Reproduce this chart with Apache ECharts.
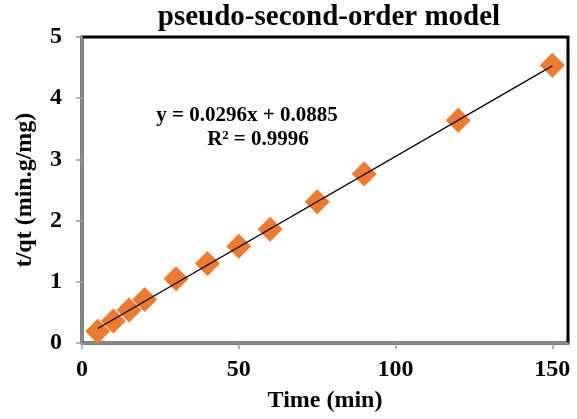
<!DOCTYPE html>
<html>
<head>
    <meta charset="utf-8">
    <title>pseudo-second-order model</title>
	<script src="https://cdn.jsdelivr.net/npm/echarts@6/dist/echarts.min.js"></script>
	<style>
		html,body{
			margin: 0;
			padding: 0;
			background: #fff;
		}
		#main{
			width: 577px;
			height: 419px;
		}
	</style>
</head>
<body>
	<div id="main"></div>
	<script type="text/javascript">
		// 数据
		var time = [5, 10, 15, 20, 30, 40, 50, 60, 75, 90, 120, 150];
		var tqt = [0.19, 0.36, 0.54, 0.71, 1.05, 1.30, 1.58, 1.86, 2.31, 2.76, 3.64, 4.54];
		// trendline end points
		var trendX = [5, 150];
		var trendY = [0.236, 4.529];
		var xTicks = [0, 50, 100, 150];
		var yTicks = [0, 1, 2, 3, 4, 5];

		var points = time.map(function(t, i){ return [t, tqt[i]]; });
		var trend = trendX.map(function(t, i){ return [t, trendY[i]]; });

		var font = '"Liberation Serif", "Times New Roman", serif';

		var myChart = echarts.init(document.getElementById('main'));
		var option = {
			animation: false,
			title: {
				text: 'pseudo-second-order model',
				left: 324,
				top: -2,
				textAlign: 'center',
				textStyle: {
					fontFamily: font,
					fontWeight: 'bold',
					fontSize: 29,
					color: '#000'
				}
			},
			grid: {
				left: 82,
				right: 9,
				top: 37,
				bottom: 76,
				show: true,
				borderColor: '#000',
				borderWidth: 3,
				backgroundColor: '#fff'
			},
			xAxis: {
				type: 'value',
				min: 0,
				max: 155,
				interval: 50,
				name: 'Time (min)',
				nameLocation: 'middle',
				nameGap: 46,
				nameTextStyle: {
					fontFamily: font,
					fontWeight: 'bold',
					fontSize: 24,
					color: '#000'
				},
				splitLine: { show: false },
				axisLine: { show: true, onZero: false, lineStyle: { color: '#888', width: 2 } },
				axisTick: { show: true, length: 6, inside: false, lineStyle: { color: '#999', width: 1.5 } },
				axisLabel: {
					margin: 15,
					fontFamily: font,
					fontWeight: 'bold',
					fontSize: 24,
					color: '#000',
					showMaxLabel: false,
					formatter: function(v){ return xTicks.indexOf(v) >= 0 ? String(v) : ''; }
				}
			},
			yAxis: {
				type: 'value',
				min: 0,
				max: 5,
				interval: 1,
				name: 't/qt (min.g/mg)',
				nameLocation: 'middle',
				nameGap: 45,
				nameRotate: 90,
				nameTextStyle: {
					fontFamily: font,
					fontWeight: 'bold',
					fontSize: 24,
					color: '#000'
				},
				splitLine: { show: false },
				axisLine: { show: true, onZero: false, lineStyle: { color: '#888', width: 2 } },
				axisTick: { show: true, length: 6, lineStyle: { color: '#999', width: 1.5 } },
				axisLabel: {
					margin: 20,
					fontFamily: font,
					fontWeight: 'bold',
					fontSize: 24,
					color: '#000',
					formatter: function(v){ return yTicks.indexOf(v) >= 0 ? String(v) : ''; }
				}
			},
			graphic: [
				{
					type: 'text',
					style: {
						text: 'y = 0.0296x + 0.0885',
						x: 247,
						y: 116,
						textAlign: 'center',
						textVerticalAlign: 'middle',
						font: 'bold 21px ' + font,
						fill: '#000'
					}
				},
				{
					type: 'text',
					style: {
						text: 'R² = 0.9996',
						x: 258,
						y: 140,
						textAlign: 'center',
						textVerticalAlign: 'middle',
						font: 'bold 21px ' + font,
						fill: '#000'
					}
				}
			],
			series: [
				{
					name: 'data',
					type: 'scatter',
					data: points,
					symbol: 'diamond',
					symbolSize: [25, 25],
					itemStyle: {
						color: '#EE7A2E',
						opacity: 1
					},
					z: 2
				},
				{
					name: 'trend',
					type: 'line',
					data: trend,
					symbol: 'none',
					lineStyle: { color: '#000', width: 1.3 },
					z: 3
				}
			]
		};
		myChart.setOption(option, true);
	</script>
</body>
</html>
